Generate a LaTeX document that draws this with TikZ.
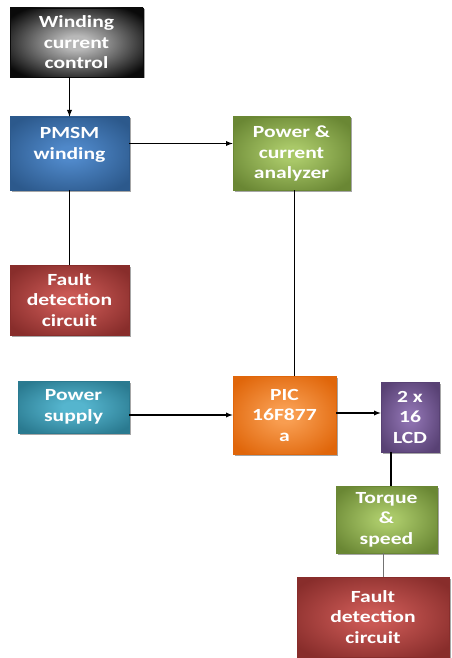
\documentclass[tikz,border=0pt]{standalone}
\usepackage{fontspec}
\newfontfamily\boxfont[FakeStretch=1.27]{Carlito}
\usetikzlibrary{shadows}
\usetikzlibrary{calc}

\definecolor{ctrlin}{HTML}{B8B8B8}   \definecolor{ctrlout}{HTML}{0A0A0A}
\definecolor{bluein}{HTML}{4F88C9}   \definecolor{blueout}{HTML}{2C598C}
\definecolor{greenin}{HTML}{A9C868}  \definecolor{greenout}{HTML}{6A8734}
\definecolor{redin}{HTML}{C95854}    \definecolor{redout}{HTML}{882D2B}
\definecolor{tealin}{HTML}{55B5CE}   \definecolor{tealout}{HTML}{2A7A90}
\definecolor{orangein}{HTML}{F89D50} \definecolor{orangeout}{HTML}{E0660A}
\definecolor{purplein}{HTML}{8C70AE} \definecolor{purpleout}{HTML}{584174}

\colorlet{glowin}{white}
\colorlet{glowout}{black}
\pgfdeclareradialshading[glowin,glowout]{boxglow}{\pgfpoint{0bp}{0bp}}{color(0bp)=(glowin); color(5bp)=(glowin); color(31bp)=(glowout); color(50bp)=(glowout)}

\tikzset{
	blockbox/.style={rectangle, shading=boxglow, text=white, align=center, line width=0.6pt,
		font=\boxfont\bfseries\fontsize{17}{20.5}\selectfont,
		drop shadow={shadow xshift=1.5pt, shadow yshift=-1.5pt, fill=black, opacity=0.35}},
	glow/.style={/utils/exec={\colorlet{glowin}{#1in}\colorlet{glowout}{#1out}}, draw=#1out}
}

\begin{document}
\begin{tikzpicture}[>=latex, x=1pt, y=-1pt, line width=1.3pt]
		\useasboundingbox [fill=white] (0,0) rectangle (452,658);
		%elements
		\node at (76.5,42.5) (wcc) [blockbox, glow=ctrl, minimum width=133pt, minimum height=69pt] {Winding\\current\\control};

		\node at (69.5,153.5) (pmsm) [blockbox, glow=blue, minimum width=119pt, minimum height=73pt] {PMSM\\winding\\\mbox{}};

		\node at (291.5,153.5) (analyzer) [blockbox, glow=green, minimum width=117pt, minimum height=73pt] {Power \&\\current\\analyzer};

		\node at (69.5,300) (fault1) [blockbox, glow=red, minimum width=119pt, minimum height=70pt] {Fault\\detection\\circuit};

		\node at (73.5,407) (supply) [blockbox, glow=teal, minimum width=111pt, minimum height=52pt] {Power\\supply};

		\node at (284.5,415) (pic) [blockbox, glow=orange, minimum width=103pt, minimum height=78pt] {PIC\\16F877\\a};

		\node at (410,417) (lcd) [blockbox, glow=purple, minimum width=58pt, minimum height=70pt] {2 x\\16\\LCD};

		\node at (386.5,519.5) (torque) [blockbox, glow=green, minimum width=101pt, minimum height=67pt] {Torque\\\&\\speed};

		\node at (373,617) (fault2) [blockbox, glow=red, minimum width=152pt, minimum height=80pt] {Fault\\detection\\circuit};

		%connections
		\draw [->] (wcc.south -| pmsm.north) -- (pmsm.north);
		\draw [->] ([yshift=10pt]pmsm.east) -- ([yshift=10pt]pmsm.east -| analyzer.west);
		\draw (pmsm.south) -- (fault1.north);
		\draw ([xshift=3pt]analyzer.south) -- ([xshift=3pt]analyzer.south |- pic.north);
		\draw [->] (supply.east |- pic.west) -- (pic.west);
		\draw [->] ([yshift=2pt]pic.east) -- ([yshift=2pt]pic.east -| lcd.west);
		\draw ([xshift=-19pt]lcd.south) -- ([xshift=-19pt]lcd.south |- torque.north);
		\draw [black!55, line width=1.6pt] ([xshift=-3pt]torque.south) -- ([xshift=-3pt]torque.south |- fault2.north);
		\end{tikzpicture}
\end{document}
